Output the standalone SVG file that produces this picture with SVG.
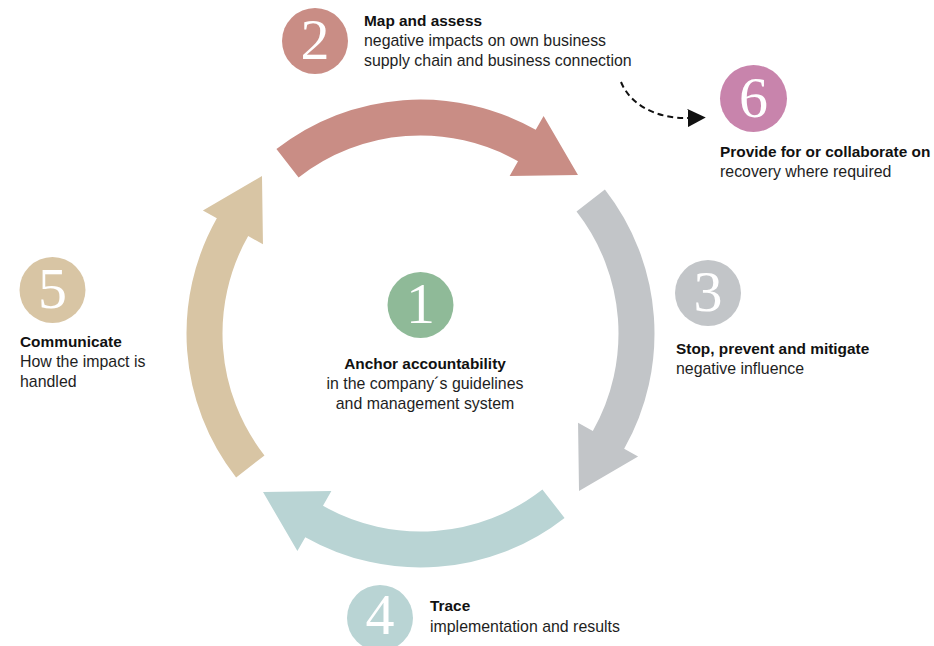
<svg xmlns="http://www.w3.org/2000/svg" xmlns:xlink="http://www.w3.org/1999/xlink" width="934" height="646" viewBox="0 0 934 646">
<style>
  .num { font-family: "Liberation Serif", "DejaVu Serif", serif; font-size: 58px; fill: #ffffff; text-anchor: middle; }
  .t { font-family: "Liberation Sans", Arial, sans-serif; font-size: 15.9px; fill: #1e1e1e; }
  .b { font-weight: bold; font-size: 15.4px; fill: #111111; }
  .mid { text-anchor: middle; }
  .dash { fill: none; stroke: #111111; stroke-width: 2; stroke-dasharray: 6 4; }
</style>
<defs>
  <path id="arc" d="M 276.44 149.11 A 234 234 0 0 1 535.73 129.84 L 543.61 115.91 L 577.97 174.99 L 509.63 175.96 L 518.00 161.17 A 198 198 0 0 0 298.60 177.47 Z"/>
  <marker id="ah" markerUnits="userSpaceOnUse" markerWidth="18" markerHeight="18" viewBox="0 0 16 16" refX="2" refY="8" orient="auto">
    <path d="M0,0 L16,8 L0,16 Z" fill="#111111"/>
  </marker>
</defs>
<rect width="934" height="646" fill="#ffffff"/>
<g id="connectors">
  <use xlink:href="#arc" href="#arc" fill="#c98d85"/>
  <use xlink:href="#arc" href="#arc" fill="#c2c5c8" transform="rotate(90 420.5 333.5)"/>
  <use xlink:href="#arc" href="#arc" fill="#b9d4d4" transform="rotate(180 420.5 333.5)"/>
  <use xlink:href="#arc" href="#arc" fill="#d8c5a4" transform="rotate(270 420.5 333.5)"/>
  <path class="dash" d="M 621 82 C 630 104, 655 119, 690 118" marker-end="url(#ah)"/>
</g>
<g id="node-1">
  <circle cx="420.5" cy="305" r="33" fill="#8fba98"/>
  <text class="num" x="420.5" y="323">1</text>
  <text class="t b mid" x="425" y="369">Anchor accountability</text>
  <text class="t mid" x="425" y="389">in the company´s guidelines</text>
  <text class="t mid" x="425" y="409">and management system</text>
</g>
<g id="node-2">
  <circle cx="315" cy="41" r="33" fill="#c98d85"/>
  <text class="num" x="315" y="59">2</text>
  <text class="t b" x="364" y="26">Map and assess</text>
  <text class="t" x="364" y="46">negative impacts on own business</text>
  <text class="t" x="364" y="66">supply chain and business connection</text>
</g>
<g id="node-3">
  <circle cx="708" cy="293" r="33" fill="#c2c5c8"/>
  <text class="num" x="708" y="311">3</text>
  <text class="t b" x="676" y="354">Stop, prevent and mitigate</text>
  <text class="t" x="676" y="374">negative influence</text>
</g>
<g id="node-4">
  <circle cx="380" cy="618" r="33" fill="#b9d4d4"/>
  <text class="num" x="380" y="634">4</text>
  <text class="t b" x="430" y="611">Trace</text>
  <text class="t" x="430" y="632">implementation and results</text>
</g>
<g id="node-5">
  <circle cx="52.5" cy="290" r="33" fill="#d8c5a4"/>
  <text class="num" x="52.5" y="308">5</text>
  <text class="t b" x="20" y="347">Communicate</text>
  <text class="t" x="20" y="367">How the impact is</text>
  <text class="t" x="20" y="387">handled</text>
</g>
<g id="node-6">
  <circle cx="753.5" cy="98.5" r="33.5" fill="#c884ac"/>
  <text class="num" x="753.5" y="117">6</text>
  <text class="t b" x="720" y="157">Provide for or collaborate on</text>
  <text class="t" x="720" y="177">recovery where required</text>
</g>
</svg>
